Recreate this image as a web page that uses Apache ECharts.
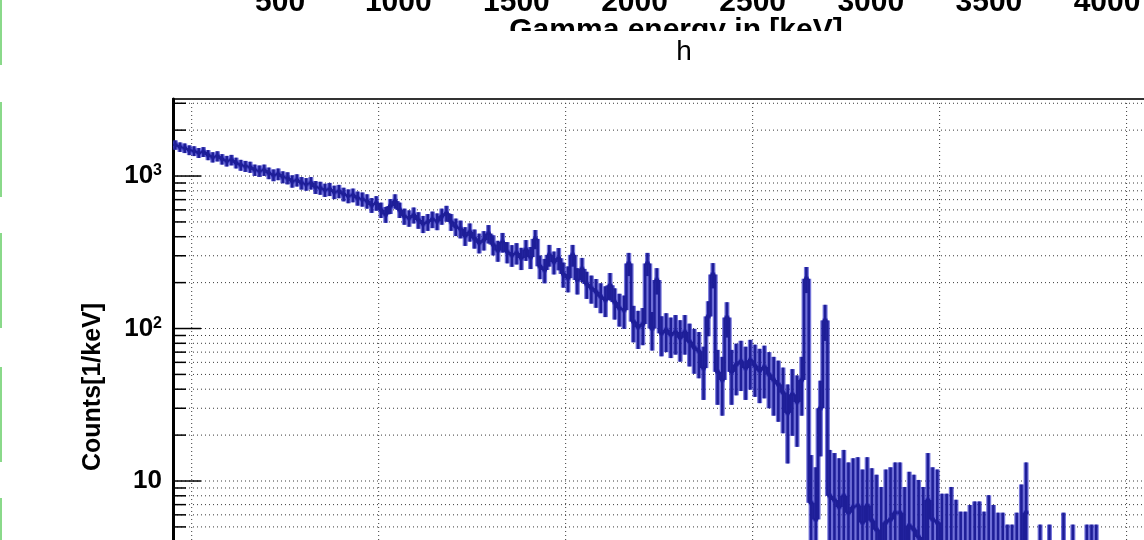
<!DOCTYPE html>
<html>
<head>
<meta charset="utf-8">
<title>h</title>
<script src="https://cdn.jsdelivr.net/npm/echarts@6/dist/echarts.min.js"></script>
<style>
  html, body { margin: 0; padding: 0; background: #fff; }
  #chart { width: 1144px; height: 540px; }
</style>
</head>
<body>
<div id="chart"></div>
<script>
// binning of the spectrum
const binStart = -50;
const binWidth = 12.5;

// counts per keV, one value per bin
const countsA = [
  1600, 1550, 1525, 1480, 1460, 1420, 1440, 1375, 1330, 1350,
  1290, 1255, 1275, 1220, 1180, 1160, 1145, 1095, 1080, 1095,
  1045, 1015, 1030, 985, 970, 925, 940, 900, 885, 900,
  845, 835, 810, 820, 785, 795, 760, 740, 750, 715,
  705, 685, 645, 665, 600, 560, 635, 685, 600, 545
];
const countsB = [
  530, 555, 515, 485, 500, 520, 505, 545, 570, 500,
  465, 450, 405, 430, 390, 365, 380, 419, 355, 325,
  369, 318, 303, 313, 290, 329, 294, 387, 256, 242,
  304, 273, 289, 228, 214, 304, 208, 246, 196, 184,
  174, 162, 154, 192, 149, 136, 132, 267, 111, 102
];
const countsC = [
  107, 267, 100, 208, 93, 98, 91, 95, 87, 95,
  82, 75, 71, 55, 120, 226, 52, 46, 118, 52,
  58, 61, 55, 62, 57, 53, 56, 50, 46, 43,
  38, 28, 37, 33, 46, 212, 7.2, 5.6, 30, 113,
  8.0, 7.5, 6.75, 8.0, 6.2, 6.75, 6.9, 5.35, 6.9, 5.5
];
const countsD = [
  4.8, 3.7, 5.35, 5.6, 6.2, 6.2, 3.7, 5.1, 4.8, 4.3,
  3.7, 7.5, 5.6, 5.35, 3.2, 3.2, 3.7, 2.8, 2.15, 2.15,
  2.5, 2.7, 2.7, 2.15, 3.1, 2.5, 2.1, 2.1, 1.6, 1.6,
  2.1, 3.9, 6.2, 0, 0, 1.6, 0, 1.6, 0, 0,
  2.1, 0, 1.6, 0, 0, 1.6, 1.6, 1.6, 0, 0,
  0, 0, 0, 0, 0, 0, 0, 0
];
const counts = [...countsA, ...countsB, ...countsC, ...countsD];

// axis ticks
const yMajorTicks = [1, 10, 100, 1000];
const yMinorTicks = [2, 3, 4, 5, 6, 7, 8, 9, 20, 30, 40, 50, 60, 70, 80, 90,
  200, 300, 400, 500, 600, 700, 800, 900, 2000, 3000];
const xGridTicks = [0, 500, 1000, 1500, 2000, 2500];
// tick labels of the plot above (only its lower edge is visible)
const prevAxisMin = 0;
const prevAxisMax = 4000;
const prevAxisStep = 500;

const xMin = -50, xMax = 2600;
const yMin = 1, yMax = 3200;
const ERR_SCALE = 8; // error = sqrt(value * ERR_SCALE)

const histColor = '#1e1e98';
const haloColor = '#3d3dcc';
const font = 'Liberation Sans, Arial, Helvetica, sans-serif';

// histogram bins: [centre, value, low edge, high edge, err low, err high, previous value]
const histData = counts.map((v, i) => {
  if (!(v > 0)) return null;
  const lo = binStart + i * binWidth;
  const err = Math.sqrt(v * ERR_SCALE);
  const prev = i > 0 ? counts[i - 1] : 0;
  return [lo + binWidth / 2, v, lo, lo + binWidth, Math.max(v - err, yMin), v + err, prev];
}).filter(d => d);

const dotted = { stroke: '#3a3a3a', lineWidth: 1, lineDash: [1, 3] };

const chart = echarts.init(document.getElementById('chart'), null, { renderer: 'canvas' });

chart.setOption({
  animation: false,
  backgroundColor: '#fff',
  grid: [
    { left: 173, top: 99, right: -20, bottom: -93.5, outerBoundsMode: 'none', show: true, borderColor: '#333', borderWidth: 2, backgroundColor: 'transparent' },
    { left: 162, width: 945, top: -63, height: 43, outerBoundsMode: 'none' }
  ],
  xAxis: [
    {
      type: 'value', min: xMin, max: xMax,
      axisLine: { show: false }, axisTick: { show: false },
      axisLabel: { show: false }, splitLine: { show: false }
    },
    {
      gridIndex: 1, type: 'value', min: prevAxisMin, max: prevAxisMax, interval: prevAxisStep,
      axisLine: { show: false }, axisTick: { show: false }, splitLine: { show: false },
      axisLabel: {
        showMinLabel: false, margin: 8, fontSize: 30, fontWeight: 'bold', color: '#000', fontFamily: font,
        formatter: v => String(v)
      }
    }
  ],
  yAxis: [
    {
      type: 'log', logBase: 10, min: yMin, max: yMax,
      axisLine: { show: true, onZero: false, lineStyle: { color: '#000', width: 3 } },
      axisTick: { show: false },
      splitLine: { show: false },
      axisLabel: {
        margin: 11, fontSize: 26, fontWeight: 'bold', color: '#000', fontFamily: font,
        formatter: v => {
          const e = Math.round(Math.log10(v));
          if (Math.abs(v / Math.pow(10, e) - 1) > 1e-6) return '';
          if (e === 0) return '1';
          if (e === 1) return '10';
          return '10{sup|' + e + '}';
        },
        rich: {
          sup: { fontSize: 16, fontWeight: 'bold', fontFamily: font, color: '#000', verticalAlign: 'top', lineHeight: 14 }
        }
      }
    },
    { gridIndex: 1, type: 'value', show: false }
  ],
  graphic: [
    // green marks at the left edge
    { type: 'rect', shape: { x: 0, y: 0, width: 2, height: 65 }, style: { fill: '#8ad98a' } },
    { type: 'rect', shape: { x: 0, y: 102, width: 2, height: 95 }, style: { fill: '#8ad98a' } },
    { type: 'rect', shape: { x: 0, y: 233, width: 2, height: 95 }, style: { fill: '#8ad98a' } },
    { type: 'rect', shape: { x: 0, y: 367, width: 2, height: 95 }, style: { fill: '#8ad98a' } },
    { type: 'rect', shape: { x: 0, y: 498, width: 2, height: 42 }, style: { fill: '#8ad98a' } },
    // axis title of the plot above, cut off
    { type: 'text', x: 676, y: 31, z: 10, style: { text: 'Gamma energy in [keV]', font: 'bold 30px ' + font, fill: '#000', textAlign: 'center', textVerticalAlign: 'middle' } },
    { type: 'rect', z: 11, shape: { x: 480, y: 31, width: 400, height: 22 }, style: { fill: '#fff' } },
    // histogram title
    { type: 'text', x: 684, y: 52, z: 12, style: { text: 'h', font: '28px ' + font, fill: '#000', textAlign: 'center', textVerticalAlign: 'middle' } },
    // y axis title
    { type: 'text', x: 93, y: 387, rotation: Math.PI / 2, z: 10, style: { text: 'Counts[1/keV]', font: 'bold 25px ' + font, fill: '#000', textAlign: 'center', textVerticalAlign: 'middle' } }
  ],
  series: [
    {
      // horizontal grid lines
      type: 'custom', silent: true, z: 1,
      data: [...yMajorTicks.slice(1), ...yMinorTicks].map(v => [xMin, v]),
      encode: { x: 0, y: 1 },
      renderItem: (params, api) => {
        const cs = params.coordSys;
        const y = api.coord([xMin, api.value(1)])[1];
        return { type: 'line', shape: { x1: cs.x, y1: y, x2: cs.x + cs.width, y2: y }, style: dotted };
      }
    },
    {
      // vertical grid lines
      type: 'custom', silent: true, z: 1,
      data: xGridTicks.map(x => [x, yMax]),
      encode: { x: 0, y: 1 },
      renderItem: (params, api) => {
        const cs = params.coordSys;
        const x = api.coord([api.value(0), yMax])[0];
        return { type: 'line', shape: { x1: x, y1: cs.y, x2: x, y2: cs.y + cs.height }, style: dotted };
      }
    },
    {
      // ticks on the y axis
      type: 'custom', silent: true, z: 4,
      data: [...yMajorTicks.map(v => [xMin, v, 1]), ...yMinorTicks.map(v => [xMin, v, 0])],
      encode: { x: 0, y: 1 },
      renderItem: (params, api) => {
        const p = api.coord([xMin, api.value(1)]);
        const len = api.value(2) ? 28 : 13;
        return { type: 'line', shape: { x1: p[0], y1: p[1], x2: p[0] + len, y2: p[1] }, style: { stroke: '#000', lineWidth: 1.5 } };
      }
    },
    {
      // histogram steps with error bars: blue halo under a dark core
      type: 'custom', name: 'h', z: 2,
      data: histData,
      encode: { x: 0, y: 1 },
      renderItem: (params, api) => {
        const a = api.coord([api.value(2), api.value(1)]);
        const b = api.coord([api.value(3), api.value(1)]);
        const top = api.coord([api.value(0), api.value(5)]);
        const bot = api.coord([api.value(0), api.value(4)]);
        const segs = [[a, b], [top, bot]];
        const prev = api.value(6);
        if (prev > 0) segs.push([api.coord([api.value(2), prev]), a]);
        const halo = { stroke: haloColor, lineWidth: 5, opacity: 0.7 };
        const core = { stroke: histColor, lineWidth: 2.6 };
        const children = [];
        segs.forEach(([p, q]) => children.push({ type: 'line', z2: 1, shape: { x1: p[0], y1: p[1], x2: q[0], y2: q[1] }, style: halo }));
        segs.forEach(([p, q]) => children.push({ type: 'line', z2: 2, shape: { x1: p[0], y1: p[1], x2: q[0], y2: q[1] }, style: core }));
        return { type: 'group', children };
      }
    }
  ]
});

window.addEventListener('resize', () => chart.resize());
</script>
</body>
</html>
